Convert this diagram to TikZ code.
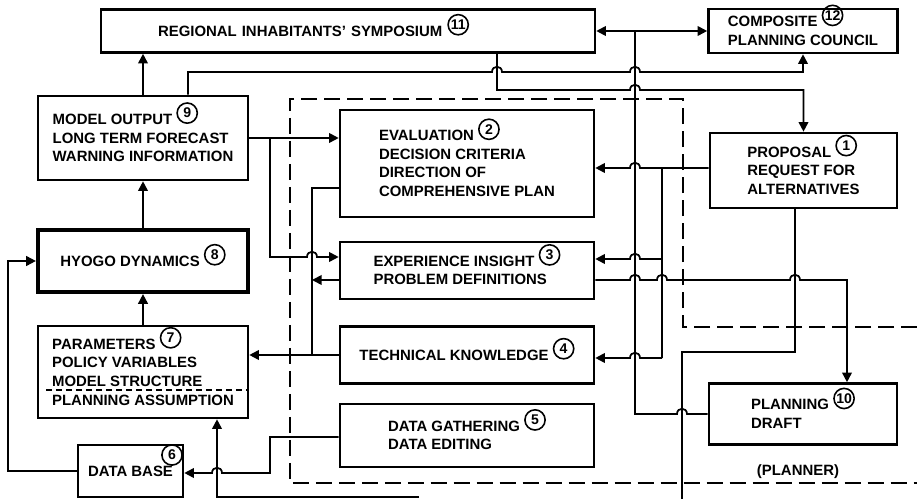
\documentclass[tikz,border=0pt]{standalone}
\usepackage{fontspec}
\setmainfont{Liberation Sans}
\usepackage{tikz}
\usetikzlibrary{arrows.meta}

\newcommand{\lbl}{\fontsize{8.5}{10.6}\selectfont\bfseries}
\newcommand{\cnum}[1]{\smash{\tikz[baseline={([yshift=-0.3pt]c.south)}]\node[num] (c) {#1};}}
% bump where a line jumps over another one
\newcommand{\hop}[2]{-- (#1-5,#2) .. controls (#1-5,#2-7) and (#1+5,#2-7) .. (#1+5,#2)}

\tikzset{
  box/.style={draw, line width=1.5pt, align=left, font=\lbl, inner sep=2pt},
  core/.style={box, line width=2.4pt},
  num/.style={circle, draw, line width=0.9pt, inner sep=0pt, minimum size=11.5pt,
    text width=, align=center, font=\fontsize{8}{8}\selectfont\bfseries},
  link/.style={line width=1pt},
  zone/.style={line width=1pt, dash pattern=on 0.32cm off 0.14cm},
}

\begin{document}
\begin{tikzpicture}[x=0.02cm, y=-0.02cm, >={Triangle[length=5.5pt,width=5.5pt]}]
\useasboundingbox (0,0) rectangle (917,499);

% Symposium and council
\node[box, minimum width=9.88cm, minimum height=0.86cm, text width=7.6cm, inner xsep=1.14cm] (n11) at (348,31) {REGIONAL INHABITANTS' SYMPOSIUM \cnum{11}};
\node[box, minimum width=3.78cm, minimum height=0.88cm] (n12) at (803,31) {COMPOSITE \cnum{12}\\PLANNING COUNCIL};

% Model column
\node[box, minimum width=4.2cm, minimum height=1.68cm] (n9) at (143,138) {MODEL OUTPUT \cnum{9}\\LONG TERM FORECAST\\WARNING INFORMATION};
\node[core, minimum width=4.2cm, minimum height=1.24cm] (n8) at (143,261) {HYOGO DYNAMICS \cnum{8}};
\node[box, minimum width=4.2cm, minimum height=1.84cm] (n7) at (143,372) {PARAMETERS \cnum{7}\\POLICY VARIABLES\\MODEL STRUCTURE\\PLANNING ASSUMPTION};
\draw[link, dash pattern=on 0.13cm off 0.07cm] (46,390) -- (n7.east |- 0,390);
\node[box, minimum width=2.1cm, minimum height=1.04cm] (n6) at (130.5,471) {DATA BASE};
\node[num] (c6) at (172,455) {6};

% Planning column
\node[box, minimum width=5.08cm, minimum height=2.14cm] (n2) at (467,163.5) {EVALUATION \cnum{2}\\DECISION CRITERIA\\DIRECTION OF\\COMPREHENSIVE PLAN};
\node[box, minimum width=5.08cm, minimum height=1.14cm] (n3) at (467,270.5) {EXPERIENCE INSIGHT \cnum{3}\\PROBLEM DEFINITIONS};
\node[box, minimum width=5.08cm, minimum height=1.14cm] (n4) at (467,355) {TECHNICAL KNOWLEDGE \cnum{4}};
\node[box, minimum width=5.08cm, minimum height=1.26cm] (n5) at (467,435.5) {DATA GATHERING \cnum{5}\\DATA EDITING};
\node[box, minimum width=3.74cm, minimum height=1.5cm] (n1) at (803.5,170.5) {PROPOSAL \cnum{1}\\REQUEST FOR\\ALTERNATIVES};
\node[box, minimum width=3.76cm, minimum height=1.22cm] (n10) at (803,414) {PLANNING \cnum{10}\\DRAFT};
\node[font=\lbl] (planner) at (798,472) {(PLANNER)};

% Planner zone
\draw[zone] (917,327) -- (683,327) -- (683,99) -- (290,99) -- (290,483) -- (917,483);

% Junction points
\coordinate (bus) at (635,31);
\coordinate (tap) at (662,168);
\coordinate (fork) at (270,138);
\coordinate (feed) at (419,497);
\coordinate (out) at (682,499);

% Model chain
\draw[link,->] (n7.north) -- (n8.south);
\draw[link,->] (n8.north) -- (n9.south);
\draw[link,->] (n9.north) -- (n9.north |- n11.south);
\draw[link,->] (n6.west) -| (8,261) -- (n8.west);
\draw[link,->] (feed) -| (n7.south -| 217,0);
\draw[link,<-] (n6.east |- 0,473) \hop{217}{473} -- (270,473) |- (n5.west |- 0,437);

% Top links
\draw[link,<->] (n11.east) -- (n12.west);
\draw[link] (bus) -- (635,414) \hop{682}{414} -- (n10.west);
\draw[link,->] (n9.north -| 188,0) -- (188,72) \hop{497}{72} \hop{635}{72} -| (n12.south);
\draw[link,->] (n11.south -| 497,0) -- (497,90) \hop{635}{90} -| (n1.north);

% Into the planning boxes
\draw[link,->] (n9.east) -- (n9.east -| n2.west);
\draw[link,->] (fork) -- (270,257) \hop{312}{257} -- (n3.west |- 0,257);
\draw[link] (n2.west |- 0,188) -| (312,355);
\draw[link,->] (n3.west |- 0,280) -- (312,280);
\draw[link,->] (n4.west) -- (n4.west -| n7.east);

% Proposal feedback
\draw[link,<-] (n2.east |- 0,168) \hop{635}{168} -- (n1.west |- 0,168);
\draw[link] (tap) -- (tap |- 0,358);
\draw[link,<-] (n3.east |- 0,259) \hop{635}{259} -- (662,259);
\draw[link,<-] (n4.east |- 0,358) \hop{635}{358} -- (662,358);
\draw[link,->] (n3.east |- 0,280) \hop{635}{280} \hop{662}{280} \hop{795}{280} -| (n10.north -| 847,0);
\draw[link] (n1.south -| 795,0) |- (682,352) -- (out);

\end{tikzpicture}
\end{document}
